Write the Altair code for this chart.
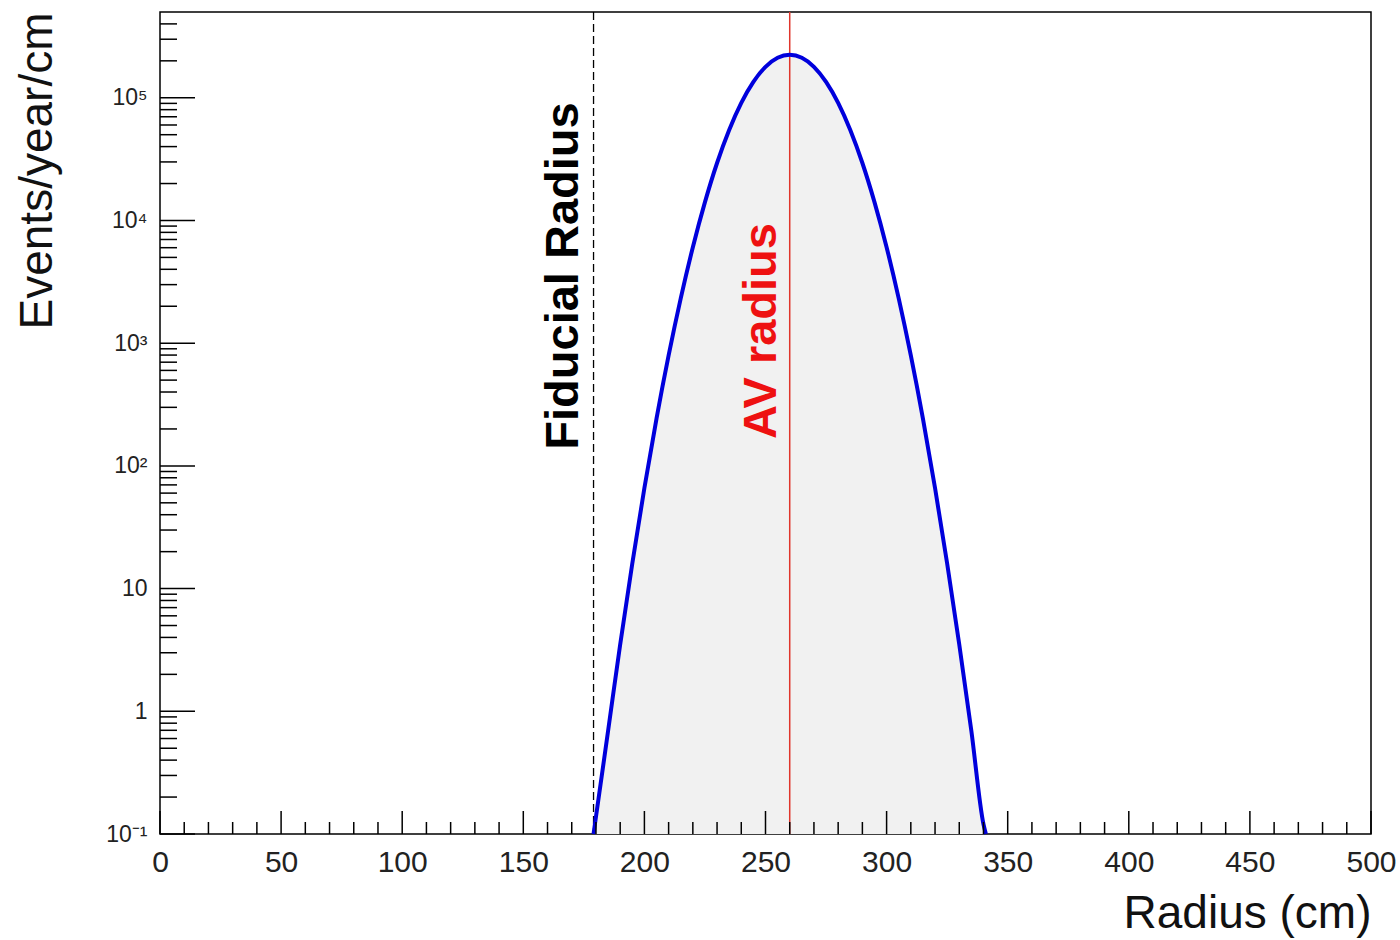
import altair as alt
import pandas as pd

# ---- data ----
radius = [179, 185, 190, 195, 200, 205, 210, 215, 220, 225, 230, 235, 240, 245,
          250, 255, 260, 265, 270, 275, 280, 285, 290, 295, 300, 305, 310, 315,
          320, 325, 330, 335, 340, 341]
events = [0.1, 0.69, 3.5, 16, 66, 243, 794, 2320, 6050, 14100, 29400, 54600,
          90800, 134700, 178600, 211600, 223900, 211600, 178600, 134700, 90800,
          54600, 29400, 14100, 6050, 2320, 794, 243, 66, 16, 3.5, 0.69, 0.12, 0.1]

fiducial_radius = [179]
av_radius = [260]

x_major = [0, 50, 100, 150, 200, 250, 300, 350, 400, 450, 500]
x_minor = [v for v in range(0, 501, 10) if v % 50 != 0]
y_major = [0.1, 1, 10, 100, 1000, 10000, 100000]
y_minor = [m * 10.0 ** e for e in range(-1, 6) for m in range(2, 10) if m * 10.0 ** e < 5e5]

Y_MIN, Y_MAX = 0.1, 5e5
W, H = 1211, 822

xscale = alt.Scale(domain=[0, 500], nice=False, zero=False)
yscale = alt.Scale(type="log", domain=[Y_MIN, Y_MAX], nice=False)

df = pd.DataFrame({"radius": radius, "events": events, "base": [Y_MIN] * len(radius)})

label_expr = (
    "round(log(datum.value)/LN10) == -1 ? '10\u207b\u00b9' : "
    "round(log(datum.value)/LN10) == 0 ? '1' : "
    "round(log(datum.value)/LN10) == 1 ? '10' : "
    "round(log(datum.value)/LN10) == 2 ? '10\u00b2' : "
    "round(log(datum.value)/LN10) == 3 ? '10\u00b3' : "
    "round(log(datum.value)/LN10) == 4 ? '10\u2074' : '10\u2075'"
)

x_axis = alt.Axis(
    values=x_major, ticks=False, domain=False, grid=False,
    labelFont="Liberation Sans", labelFontSize=30, labelColor="#222",
    labelPadding=13, labelFlush=False,
    title="Radius (cm)", titleFont="Liberation Sans", titleFontSize=46,
    titleFontWeight="normal", titleColor="#111",
    titleX=W, titleY=93, titleAlign="right", titleBaseline="alphabetic",
)
y_axis = alt.Axis(
    values=y_major, ticks=False, domain=False, grid=False,
    labelExpr=label_expr,
    labelFont="Liberation Sans", labelFontSize=23, labelColor="#222",
    labelPadding=13,
    title="Events/year/cm", titleFont="Liberation Sans", titleFontSize=46,
    titleFontWeight="normal", titleColor="#111",
    titleAngle=270, titleX=-109, titleY=0, titleAlign="right",
    titleBaseline="alphabetic",
)

# base layer carrying both axes
area = alt.Chart(df).mark_area(color="#f1f1f1", interpolate="monotone").encode(
    x=alt.X("radius:Q", scale=xscale, axis=x_axis),
    y=alt.Y("events:Q", scale=yscale, axis=y_axis),
    y2="base:Q",
)

line = alt.Chart(df).mark_line(color="#0000dc", strokeWidth=4, interpolate="monotone").encode(
    x=alt.X("radius:Q", scale=xscale),
    y=alt.Y("events:Q", scale=yscale),
)

fid_df = pd.DataFrame({"radius": fiducial_radius, "label": ["Fiducial Radius"]})
av_df = pd.DataFrame({"radius": av_radius, "label": ["AV radius"]})

fid_rule = alt.Chart(fid_df).mark_rule(color="black", strokeWidth=1.3, strokeDash=[8, 4]).encode(
    x=alt.X("radius:Q", scale=xscale)
)
av_rule = alt.Chart(av_df).mark_rule(color="#e0352b", strokeWidth=1.5).encode(
    x=alt.X("radius:Q", scale=xscale)
)

fid_text = alt.Chart(fid_df).mark_text(
    angle=270, align="center", baseline="alphabetic", dy=-16,
    font="Liberation Sans", fontSize=47, fontWeight="bold", color="black",
).encode(x=alt.X("radius:Q", scale=xscale), y=alt.value(264), text="label:N")

av_text = alt.Chart(av_df).mark_text(
    angle=270, align="center", baseline="alphabetic", dy=-14,
    font="Liberation Sans", fontSize=47, fontWeight="bold", color="#ee1111",
).encode(x=alt.X("radius:Q", scale=xscale), y=alt.value(319), text="label:N")

ymaj = alt.Chart(pd.DataFrame({"events": y_major})).mark_rule(color="black", strokeWidth=1.5).encode(
    y=alt.Y("events:Q", scale=yscale), x=alt.value(0), x2=alt.value(35)
)
ymin = alt.Chart(pd.DataFrame({"events": y_minor})).mark_rule(color="black", strokeWidth=1.5).encode(
    y=alt.Y("events:Q", scale=yscale), x=alt.value(0), x2=alt.value(17)
)
xmaj = alt.Chart(pd.DataFrame({"radius": x_major})).mark_rule(color="black", strokeWidth=1.5).encode(
    x=alt.X("radius:Q", scale=xscale), y=alt.value(H), y2=alt.value(H - 23)
)
xmin = alt.Chart(pd.DataFrame({"radius": x_minor})).mark_rule(color="black", strokeWidth=1.5).encode(
    x=alt.X("radius:Q", scale=xscale), y=alt.value(H), y2=alt.value(H - 12)
)

chart = alt.layer(
    area, fid_rule, av_rule, line, fid_text, av_text, ymaj, ymin, xmaj, xmin
).properties(
    width=W, height=H,
    autosize=alt.AutoSizeParams(type="none"),
    padding={"left": 160, "top": 12, "right": 29, "bottom": 106},
    background="white",
).configure_view(stroke="black", strokeWidth=1.5)

chart.save("out.html", embed_options={"renderer": "svg", "actions": False})
